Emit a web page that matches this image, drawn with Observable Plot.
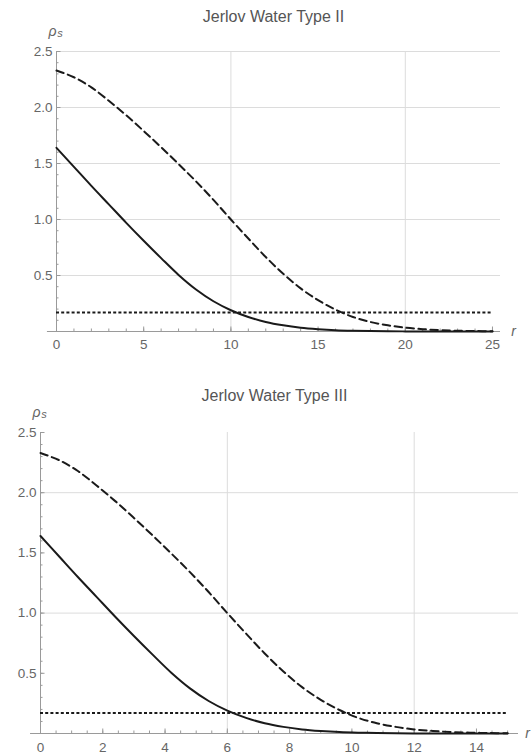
<!DOCTYPE html>
<html>
<head>
<meta charset="utf-8">
<script src="https://cdn.jsdelivr.net/npm/d3@7"></script>
<script src="https://cdn.jsdelivr.net/npm/@observablehq/plot@0.6"></script>
<style>
  body { margin: 0; background: #fff; }
  #chart { width: 532px; }
  #chart svg { display: block; }
</style>
</head>
<body>
<div id="chart"></div>
<script>
// ---- Panel 1: Jerlov Water Type II ----
const title1 = "Jerlov Water Type II";
const r1 = [0,1,2,3,4,5,6,7,8,9,10,11,12,13,14,15,16,17,18,19,20,21,22,23,24,25];
const solid1 = [1.64,1.47,1.30,1.135,0.97,0.81,0.655,0.505,0.375,0.27,0.19,0.13,0.085,0.055,0.034,0.021,0.012,0.007,0.004,0.002,0.001,0.0005,0,0,0,0];
const dashed1 = [2.33,2.27,2.18,2.06,1.93,1.79,1.645,1.495,1.34,1.175,1.0,0.83,0.665,0.515,0.385,0.28,0.195,0.13,0.085,0.055,0.034,0.021,0.012,0.007,0.004,0.002];
const xMajor1 = [0,5,10,15,20,25];
const xMinor1 = d3.range(0, 26, 1);
const xGrid1 = [10,20];
const yGrid1 = [0.5,1.0,1.5,2.0,2.5];

// ---- Panel 2: Jerlov Water Type III ----
const title2 = "Jerlov Water Type III";
const r2 = [0,0.6,1.2,1.8,2.4,3,3.6,4.2,4.8,5.4,6,6.6,7.2,7.8,8.4,9,9.6,10.2,10.8,11.4,12,12.6,13.2,13.8,14.4,15];
const solid2 = [1.64,1.47,1.30,1.135,0.97,0.81,0.655,0.505,0.375,0.27,0.19,0.13,0.085,0.055,0.034,0.021,0.012,0.007,0.004,0.002,0.001,0.0005,0,0,0,0];
const dashed2 = [2.33,2.27,2.18,2.06,1.93,1.79,1.645,1.495,1.34,1.175,1.0,0.83,0.665,0.515,0.385,0.28,0.195,0.13,0.085,0.055,0.034,0.021,0.012,0.007,0.004,0.002];
const xMajor2 = [0,2,4,6,8,10,12,14];
const xMinor2 = d3.range(0, 15.01, 0.5);
const xGrid2 = [6,12];
const yGrid2 = [1.0,2.0];

// ---- shared ----
const yMajor = [0.5,1.0,1.5,2.0,2.5];
const yMinor = d3.range(0.1, 2.501, 0.1);
const threshold = 0.17;
const yTop = 2.5;

const FONT = "'Liberation Sans', Arial, Helvetica, sans-serif";
const AXIS = "#9a9a9a";
const GRID = "#dcdcdc";
const LABEL = "#666";
const INK = "#1a1a1a";

function panel(o) {
  const solidData = o.r.map((x, i) => ({x, y: o.solid[i]}));
  const dashedData = o.r.map((x, i) => ({x, y: o.dashed[i]}));
  const rMax = o.r[o.r.length - 1];
  return Plot.plot({
    width: 532,
    height: o.height,
    marginTop: o.mt, marginBottom: o.mb, marginLeft: o.ml, marginRight: o.mr,
    x: {domain: [0, o.xEnd], axis: null},
    y: {domain: [0, yTop], axis: null},
    style: {fontFamily: FONT, background: "#fff", overflow: "hidden"},
    marks: [
      // grid
      Plot.ruleY(o.yGrid, {x1: 0, x2: o.xEnd, stroke: GRID, strokeWidth: 1}),
      Plot.ruleX(o.xGrid, {y1: 0, y2: yTop, stroke: GRID, strokeWidth: 1}),
      // axes lines
      Plot.ruleX([0], {y1: 0, y2: yTop, stroke: AXIS, strokeWidth: 1}),
      Plot.ruleY([0], {x1: o.xStart, x2: o.xEnd, stroke: AXIS, strokeWidth: 1}),
      // ticks (inward)
      Plot.ruleX(o.xMinor, {y1: 0, y2: 0, insetTop: -2.5, stroke: AXIS}),
      Plot.ruleX(o.xMajor, {y1: 0, y2: 0, insetTop: -4.5, stroke: AXIS}),
      Plot.ruleY(yMinor, {x1: 0, x2: 0, insetRight: -2.5, stroke: AXIS}),
      Plot.ruleY(yMajor, {x1: 0, x2: 0, insetRight: -4.5, stroke: AXIS}),
      // tick labels
      Plot.text(o.xMajor, {x: d => d, y: 0, dy: o.xLabelDy, text: d => String(d), fill: LABEL, fontSize: 13.5, lineAnchor: "middle"}),
      Plot.text(yMajor, {x: 0, y: d => d, dx: -4, textAnchor: "end", text: d => d.toFixed(1), fill: LABEL, fontSize: 13.5, lineAnchor: "middle"}),
      // axis labels
      Plot.text(["ρ"], {x: 0, y: yTop, dx: -4, dy: -20, text: d => d, fill: LABEL, fontSize: 14, fontStyle: "italic", lineAnchor: "middle"}),
      Plot.text(["s"], {x: 0, y: yTop, dx: 3.5, dy: -18, text: d => d, fill: LABEL, fontSize: 11, fontStyle: "italic", lineAnchor: "middle"}),
      Plot.text(["r"], {x: o.xEnd, y: 0, dx: o.rDx, text: d => d, fill: LABEL, fontSize: 14, fontStyle: "italic", lineAnchor: "middle"}),
      // title
      Plot.text([o.title], {frameAnchor: "top", dx: -5, dy: o.titleDy, text: d => d, fill: "#555", fontSize: 16, lineAnchor: "middle"}),
      // data
      Plot.ruleY([threshold], {x1: 0, x2: rMax, stroke: INK, strokeWidth: 2, strokeDasharray: "3,2.2"}),
      Plot.line(dashedData, {x: "x", y: "y", stroke: INK, strokeWidth: 2, strokeDasharray: "7.5,4.5", curve: "catmull-rom"}),
      Plot.line(solidData, {x: "x", y: "y", stroke: INK, strokeWidth: 2, curve: "catmull-rom"})
    ]
  });
}

const chart = document.getElementById("chart");
chart.append(panel({
  title: title1, r: r1, solid: solid1, dashed: dashed1,
  xMajor: xMajor1, xMinor: xMinor1, xGrid: xGrid1, yGrid: yGrid1,
  height: 360, mt: 51, mb: 29, ml: 56, mr: 32,
  xStart: -0.52, xEnd: 25.46, titleDy: -35, xLabelDy: 13, rDx: 13
}));
chart.append(panel({
  title: title2, r: r2, solid: solid2, dashed: dashed2,
  xMajor: xMajor2, xMinor: xMinor2, xGrid: xGrid2, yGrid: yGrid2,
  height: 396, mt: 72, mb: 23, ml: 40, mr: 14,
  xStart: -0.32, xEnd: 15.35, titleDy: -37, xLabelDy: 14, rDx: 9
}));
</script>
</body>
</html>
